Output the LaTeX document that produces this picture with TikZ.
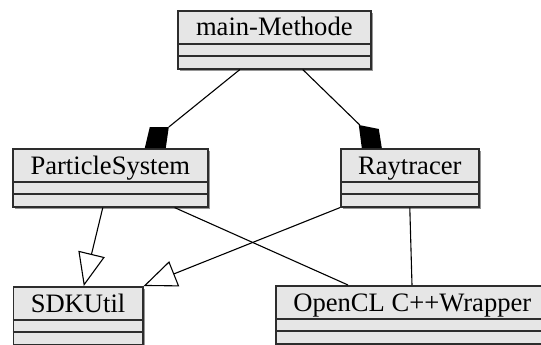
\documentclass[tikz,border=0pt]{standalone}
\usepackage{fontspec}
\setmainfont{Liberation Serif}
\usetikzlibrary{arrows.meta,calc}
\definecolor{boxfill}{RGB}{230,230,230}
\definecolor{boxedge}{RGB}{45,45,45}
\definecolor{shadowgray}{RGB}{150,150,150}
\tikzset{
  classbox/.style={draw=boxedge, line width=1.6pt, fill=boxfill, inner sep=0pt,
    minimum height=58pt, anchor=north west},
  classname/.style={anchor=base, inner sep=0pt, font=\fontsize{26.6}{32}\selectfont},
  divider/.style={draw=boxedge, line width=1.6pt},
  link/.style={draw=black, line width=1.1pt},
  generalize/.style={link, -{Triangle[open, length=33pt, width=27pt, fill=white, line width=1.1pt]}},
  composite/.style={fill=black}
}
% UML class box: name, left x, top y, width, class name
\newcommand\umlclass[5]{%
  \fill[shadowgray] (#2+3,#3+3) rectangle ++(#4,58);
  \node[classbox, minimum width=#4pt] (#1) at (#2,#3) {};
  \node[classname] (#1-name) at ($(#1.north)+(0,26)$) {#5};
  \draw[divider] ([yshift=-34pt]#1.north west) -- ([yshift=-34pt]#1.north east);
  \draw[divider] ([yshift=-46pt]#1.north west) -- ([yshift=-46pt]#1.north east);
}
\begin{document}
\begin{tikzpicture}[x=1pt, y=-1pt]
\useasboundingbox (0,0) rectangle (541,345);
\clip (0,0) rectangle (541,345);

\umlclass{main}{177}{10}{193}{main-Methode}
\umlclass{ps}{12}{148}{195}{ParticleSystem}
\umlclass{rt}{340}{148}{138}{Raytracer}
\umlclass{sdk}{12.5}{286}{129.5}{SDKUtil}
\umlclass{ocl}{275}{285}{273}{OpenCL C++Wrapper}

% composition: main-Methode owns ParticleSystem and Raytracer
\coordinate (psd) at ($(ps.north)+(58.5,-21)$);
\coordinate (rtd) at ($(rt.north)+(-50,-23)$);
\draw[link] ([xshift=-34.5pt]main.south) -- (psd);
\fill[composite] (psd) -- ++(-19,0) -- ++(-5,21) -- ++(21,0) -- cycle;
\draw[link] ([xshift=28.5pt]main.south) -- (rtd);
\fill[composite] ([xshift=-1pt]rtd) -- ++(20,4) -- ++(3,19) -- ++(-20,0) -- cycle;

% generalization towards SDKUtil
\draw[generalize] ([xshift=-7.5pt]ps.south) -- ([xshift=5.75pt]sdk.north);
\draw[generalize] (rt.south west) -- (sdk.north east);

% associations with the OpenCL wrapper
\draw[link] ([xshift=-34pt]ps.south east) -- ([xshift=73pt]ocl.north west);
\draw[link] (rt.south) -- ([xshift=137pt]ocl.north west);
\end{tikzpicture}
\end{document}
